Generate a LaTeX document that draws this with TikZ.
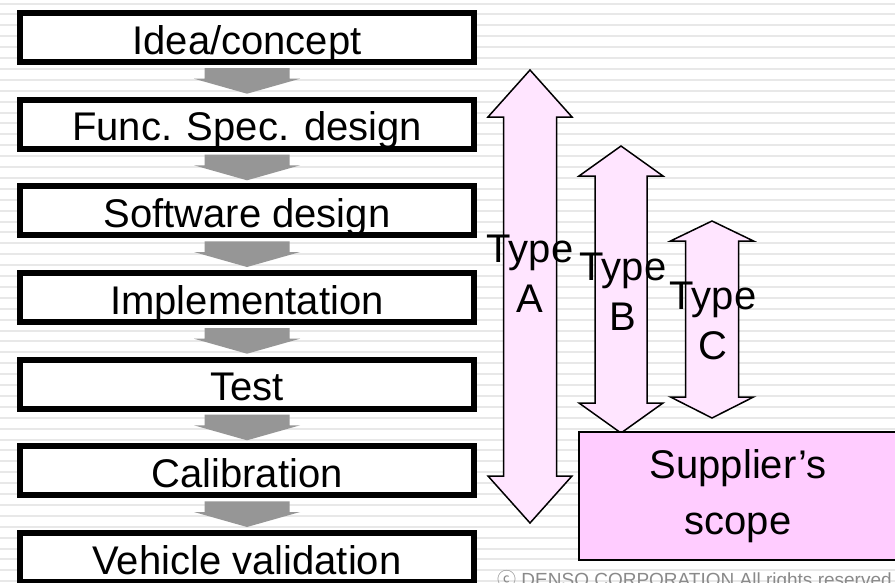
\documentclass[tikz,border=0pt]{standalone}
\usepackage{fontspec}
\setmainfont{Liberation Sans}
\newfontfamily\cjkfont{Noto Sans CJK JP}
\usetikzlibrary{calc}
\definecolor{stripe}{HTML}{E8E8E8}
\definecolor{flowgray}{HTML}{969696}
\definecolor{pinklight}{HTML}{FFE5FF}
\definecolor{pinkbox}{HTML}{FFCCFF}
\definecolor{notegray}{HTML}{8A8A8A}

% vertical double-headed arrow:
% #1 x, #2 top tip, #3 top head base, #4 bottom head base, #5 bottom tip,
% #6 head half width, #7 shaft half width
\newcommand\dblarrow[7]{%
  \filldraw[scopearrow] (#1,#2) -- (#1+#6,#3) -- (#1+#7,#3) -- (#1+#7,#4)
    -- (#1+#6,#4) -- (#1,#5) -- (#1-#6,#4) -- (#1-#7,#4) -- (#1-#7,#3)
    -- (#1-#6,#3) -- cycle;}

\begin{document}
\begin{tikzpicture}[x=1pt,y=-1pt,
  bigfont/.style={font=\fontsize{40}{50}\selectfont},
  stepbox/.style={draw,line width=6pt,fill=white,minimum width=454pt,
    minimum height=49pt,inner sep=0pt,text height=33pt,text depth=0pt,bigfont},
  flowarrow/.style={fill=flowgray},
  scopearrow/.style={fill=pinklight,draw=black,line width=1.5pt,line join=miter},
  typelabel/.style={bigfont,align=center,inner sep=0pt},
  scopebox/.style={draw,line width=2pt,fill=pinkbox,minimum width=318pt,
    minimum height=128pt,inner sep=0pt,align=center,
    font=\fontsize{40}{56}\selectfont},
  stripeline/.style={draw=stripe,line width=2pt}]

\useasboundingbox (0,0) rectangle (895,582);
\fill[white] (0,0) rectangle (895,582);

% ruled background
\foreach \k in {0,...,53}
  \draw[stripeline] (0,3.5+10.9*\k) -- (895,3.5+10.9*\k);

% process steps
\node[stepbox] (b1) at (247,37.5)  {Idea/concept};
\node[stepbox] (b2) at (247,124.2) {Func. Spec. design};
\node[stepbox] (b3) at (247,210.8) {Software design};
\node[stepbox] (b4) at (247,297.5) {Implementation};
\node[stepbox] (b5) at (247,384.2) {Test};
\node[stepbox] (b6) at (247,470.8) {Calibration};
\node[stepbox] (b7) at (247,557.5) {Vehicle validation};

% block arrows between consecutive steps
\foreach \a/\b in {b1/b2,b2/b3,b3/b4,b4/b5,b5/b6,b6/b7}
  \fill[flowarrow] ($(\a.south)+(-42.5,3)$) -- ($(\a.south)+(42.5,3)$)
    -- ($(\b.north)+(42.5,-18)$) -- ($(\b.north)+(53,-18)$)
    -- ($(\b.north)+(0,-3)$)
    -- ($(\b.north)+(-53,-18)$) -- ($(\b.north)+(-42.5,-18)$) -- cycle;

% scope arrows
\dblarrow{530}{70}{117}{476}{523}{42}{26.5}
\dblarrow{621}{146}{176}{403}{433}{42}{26}
\dblarrow{712}{221}{241}{397}{418}{41.5}{26.5}

% supplier's scope
\node[scopebox] (sup) at (738,496) {Supplier’s\\scope};

% arrow labels
\node[typelabel] (ta) at (530,273.7) {Type\\A};
\node[typelabel] (tb) at (623,291.7) {Type\\B};
\node[typelabel] (tc) at (713,320.7) {Type\\C};

% footer
\node[anchor=base west,inner sep=0pt,text=notegray,
  font=\fontsize{19}{22}\selectfont] (copy) at (497,586.6)
  {{\cjkfont ⓒ} DENSO CORPORATION All rights reserved};
\end{tikzpicture}
\end{document}
